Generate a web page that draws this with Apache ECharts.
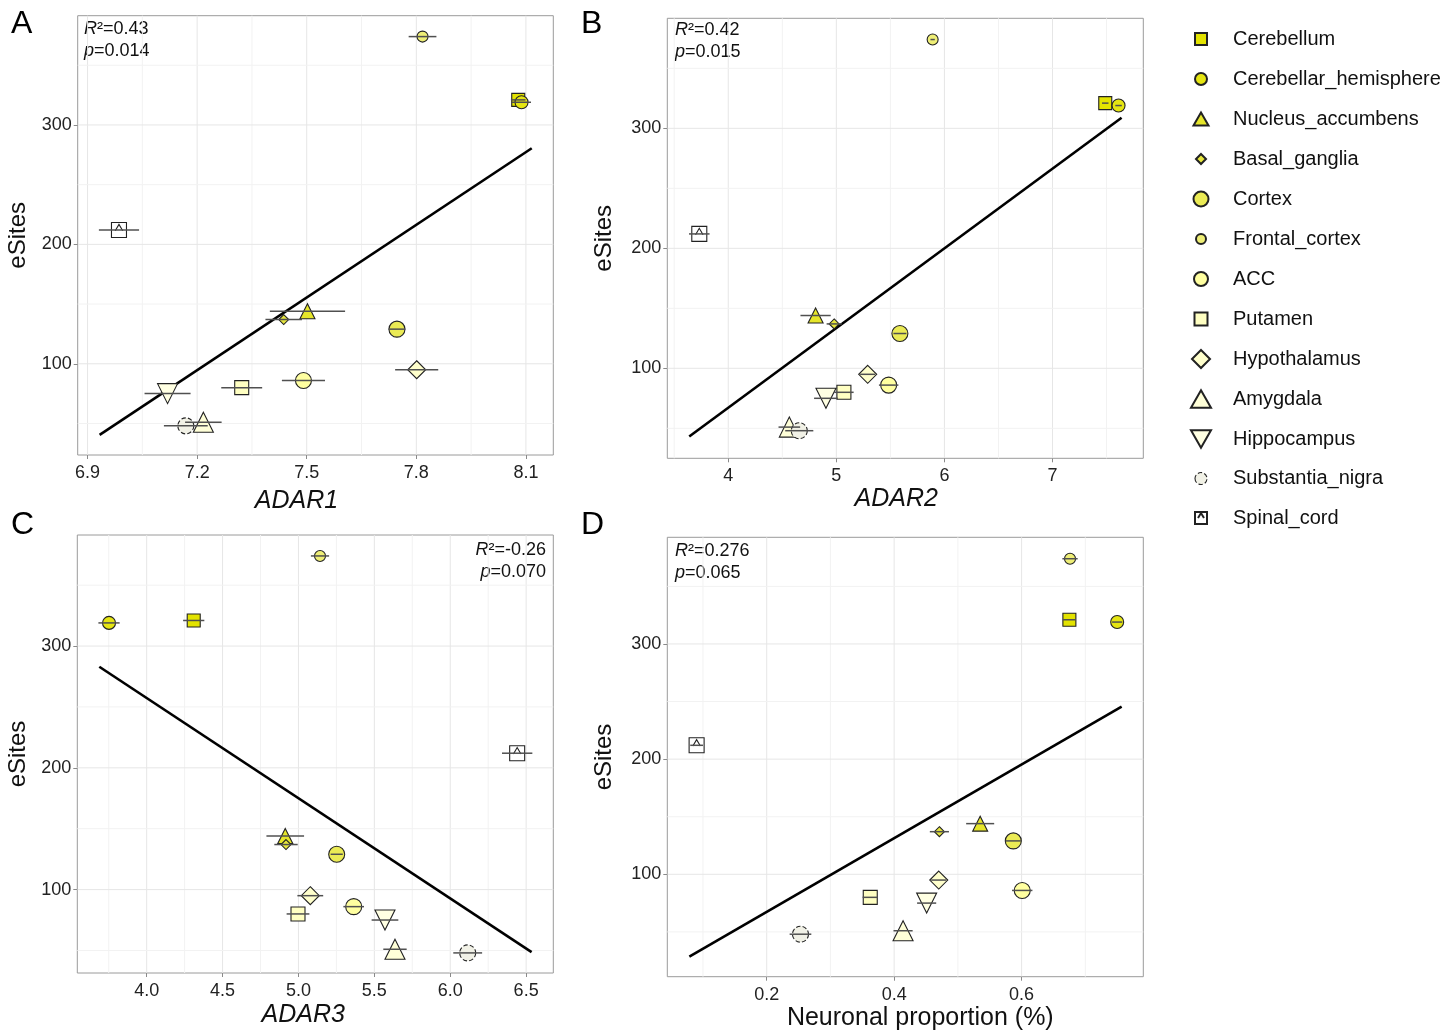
<!DOCTYPE html>
<html><head><meta charset="utf-8">
<script src="https://cdn.jsdelivr.net/npm/echarts@6/dist/echarts.min.js"></script>
<style>html,body{margin:0;padding:0;background:#fff}#c{width:1448px;height:1032px}</style>
</head><body><div id="c"></div>
<script>
// ---------------- data ----------------
const regions = ['Cerebellum','Cerebellar_hemisphere','Nucleus_accumbens','Basal_ganglia','Cortex','Frontal_cortex','ACC','Putamen','Hypothalamus','Amygdala','Hippocampus','Substantia_nigra','Spinal_cord'];
const eSites = [321, 319, 144, 137, 129, 374, 86, 80, 95, 51, 75, 48, 212];

const adar1    = [8.079, 8.088, 7.502, 7.437, 7.747, 7.817, 7.491, 7.322, 7.801, 7.217, 7.119, 7.169, 6.986];
const adar1Err = [0.02, 0.026, 0.103, 0.05, 0.023, 0.038, 0.059, 0.056, 0.059, 0.05, 0.063, 0.06, 0.055];
const adar2    = [7.488, 7.611, 4.808, 4.98, 5.588, 5.891, 5.484, 5.07, 5.29, 4.565, 4.904, 4.657, 3.732];
const adar2Err = [0.03, 0.03, 0.14, 0.07, 0.06, 0.02, 0.09, 0.09, 0.07, 0.1, 0.11, 0.13, 0.095];
const adar3    = [4.31, 3.752, 4.913, 4.918, 5.252, 5.142, 5.364, 4.997, 5.078, 5.636, 5.57, 6.115, 6.441];
const adar3Err = [0.07, 0.07, 0.124, 0.077, 0.04, 0.06, 0.068, 0.075, 0.085, 0.077, 0.088, 0.095, 0.1];
const neuronal    = [0.675, 0.750, 0.535, 0.471, 0.587, 0.676, 0.601, 0.3625, 0.470, 0.414, 0.451, 0.253, 0.090];
const neuronalErr = [0.01, 0.008, 0.022, 0.015, 0.012, 0.012, 0.016, 0.012, 0.012, 0.015, 0.015, 0.017, 0.01];

const fitA = [[6.933, 40.4], [8.116, 280.5]];
const fitB = [[3.639, 43.2], [7.639, 308.8]];
const fitC = [[3.688, 283.0], [6.536, 48.6]];
const fitD = [[0.0786, 28.6], [0.757, 245.6]];

const yMajor = [100, 200, 300];
const yMinor = [50, 150, 250, 350];
const xMajorA = [6.9, 7.2, 7.5, 7.8, 8.1];
const xMinorA = [7.05, 7.35, 7.65, 7.95];
const xMajorB = [4, 5, 6, 7];
const xMinorB = [3.5, 4.5, 5.5, 6.5, 7.5];
const xMajorC = [4.0, 4.5, 5.0, 5.5, 6.0, 6.5];
const xMinorC = [3.75, 4.25, 4.75, 5.25, 5.75, 6.25];
const xMajorD = [0.2, 0.4, 0.6];
const xMinorD = [0.1, 0.3, 0.5, 0.7];

const statR2 = ['0.43', '0.42', '-0.26', '0.276'];
const statP  = ['0.014', '0.015', '0.070', '0.065'];

// ---------------- styles ----------------
const FONT = "'Liberation Sans', Arial, Helvetica, sans-serif";
const styles = [
  {symbol: 'rect', size: 13, color: '#e3e300'},
  {symbol: 'circle', size: 13, color: '#e5e512'},
  {symbol: 'triangle', size: 15, color: '#e6e62a'},
  {symbol: 'diamond', size: 10, color: '#e6e63e'},
  {symbol: 'circle', size: 16, color: '#ebeb55'},
  {symbol: 'circle', size: 11, color: '#eeee76'},
  {symbol: 'circle', size: 16, color: '#ffffa0'},
  {symbol: 'rect', size: 14, color: '#ffffc2'},
  {symbol: 'diamond', size: 18, color: '#ffffcc'},
  {symbol: 'triangle', size: 20, color: '#ffffd8'},
  {symbol: 'path://M0,0L20,0L10,17.3Z', size: 20, color: '#ffffe2'},
  {symbol: 'circle', size: 16, color: '#f1f1e6', dashed: true},
  {symbol: 'path://M0,0H20V20H0Z M5,11 L10,2.5 L15,11', size: 15, color: '#ffffff'}
];
// legend icons: drawn in a fixed 22x22 box (corner moves keep the box), shapes sized like the reference key
const PAD = 'M-11,-11M11,11';
const circ = r => `M${-r},0A${r},${r},0,1,0,${r},0A${r},${r},0,1,0,${-r},0Z`;
const legendIcons = [
  `path://${PAD}M-6,-6H6V6H-6Z`,
  `path://${PAD}${circ(6)}`,
  `path://${PAD}M0,-6.5L7.5,6.5L-7.5,6.5Z`,
  `path://${PAD}M0,-5L5,0L0,5L-5,0Z`,
  `path://${PAD}${circ(7.5)}`,
  `path://${PAD}${circ(5)}`,
  `path://${PAD}${circ(7)}`,
  `path://${PAD}M-6.5,-6.5H6.5V6.5H-6.5Z`,
  `path://${PAD}M0,-9L9,0L0,9L-9,0Z`,
  `path://${PAD}M0,-8.7L10,8.7L-10,8.7Z`,
  `path://${PAD}M-10,-8.7L10,-8.7L0,8.7Z`,
  `path://${PAD}${circ(6)}`,
  `path://${PAD}M-6,-6H6V6H-6Z M-3,0 L0,-5 L3,0`
];

const panels = [
  {x: adar1, err: adar1Err, fit: fitA, xMajor: xMajorA, xMinor: xMinorA, xMin: 6.873, xMax: 8.175, yMin: 23.6, yMax: 391.5,
   grid: {left: 77.7, top: 15.7, width: 475.6, height: 439.3}, name: 'ADAR1', italic: true, dec: 1, nameGap: 34, yNameGap: 47, namePad: [0, 38, 0, 0]},
  {x: adar2, err: adar2Err, fit: fitB, xMajor: xMajorB, xMinor: xMinorB, xMin: 3.436, xMax: 7.84, yMin: 25, yMax: 391.7,
   grid: {left: 667.3, top: 18.3, width: 476, height: 440}, name: 'ADAR2', italic: true, dec: 0, nameGap: 28, yNameGap: 51, namePad: [0, 18, 0, 0]},
  {x: adar3, err: adar3Err, fit: fitC, xMajor: xMajorC, xMinor: xMinorC, xMin: 3.543, xMax: 6.679, yMin: 31.5, yMax: 391.2,
   grid: {left: 77.3, top: 535, width: 476, height: 438}, name: 'ADAR3', italic: true, dec: 1, nameGap: 30, yNameGap: 47, namePad: [0, 24, 0, 0]},
  {x: neuronal, err: neuronalErr, fit: fitD, xMajor: xMajorD, xMinor: xMinorD, xMin: 0.044, xMax: 0.791, yMin: 11.1, yMax: 392.6,
   grid: {left: 667.3, top: 537.3, width: 476, height: 439.4}, name: 'Neuronal proportion (%)', italic: false, dec: 1, nameGap: 29, yNameGap: 51, namePad: [0, 0, 0, 30]}
];

const grids = [], xAxes = [], yAxes = [], series = [];
panels.forEach((p, i) => {
  grids.push(Object.assign({show: true, borderColor: '#9a9a9a', borderWidth: 1, backgroundColor: '#fff'}, p.grid));
  xAxes.push({
    type: 'value', gridIndex: i, min: p.xMin, max: p.xMax,
    splitLine: {show: false}, axisLine: {show: false},
    axisTick: {show: true, length: 4, lineStyle: {color: '#8a8a8a'}, customValues: p.xMajor},
    axisLabel: {customValues: p.xMajor, formatter: v => Number(v).toFixed(p.dec), fontSize: 18, color: '#222', fontFamily: FONT, margin: 9},
    name: p.name, nameLocation: 'middle', nameGap: p.nameGap,
    nameTextStyle: {fontSize: 25, fontStyle: p.italic ? 'italic' : 'normal', color: '#111', fontFamily: FONT, padding: p.namePad}
  });
  yAxes.push({
    type: 'value', gridIndex: i, min: p.yMin, max: p.yMax,
    splitLine: {show: false}, axisLine: {show: false},
    axisTick: {show: true, length: 4, lineStyle: {color: '#8a8a8a'}, customValues: yMajor},
    axisLabel: {customValues: yMajor, formatter: v => String(Math.round(v)), fontSize: 18, color: '#222', fontFamily: FONT, margin: 6},
    name: 'eSites', nameLocation: 'middle', nameGap: p.yNameGap, nameRotate: 90,
    nameTextStyle: {fontSize: 24, color: '#111', fontFamily: FONT}
  });
  const gl = [];
  p.xMajor.forEach(v => gl.push([v, p.yMin, 0, 1]));
  p.xMinor.forEach(v => gl.push([v, p.yMin, 0, 0]));
  yMajor.forEach(v => gl.push([p.xMin, v, 1, 1]));
  yMinor.forEach(v => gl.push([p.xMin, v, 1, 0]));
  series.push({
    type: 'custom', xAxisIndex: i, yAxisIndex: i, z: 0, silent: true, animation: false,
    data: gl,
    renderItem: (params, api) => {
      const cs = params.coordSys;
      const horiz = api.value(2) === 1, major = api.value(3) === 1;
      const pt = api.coord([api.value(0), api.value(1)]);
      const shape = horiz ? {x1: cs.x, y1: pt[1], x2: cs.x + cs.width, y2: pt[1]}
                          : {x1: pt[0], y1: cs.y, x2: pt[0], y2: cs.y + cs.height};
      return {type: 'line', shape, style: {stroke: major ? '#e6e6e6' : '#f2f2f2', lineWidth: 1}};
    }
  });
  series.push({
    type: 'line', xAxisIndex: i, yAxisIndex: i, z: 1, silent: true, animation: false,
    data: p.fit, symbol: 'none', lineStyle: {color: '#000', width: 2.6}
  });
  regions.forEach((r, k) => {
    const st = styles[k];
    series.push({
      type: 'scatter', name: r, xAxisIndex: i, yAxisIndex: i, z: 2, animation: false,
      data: [[p.x[k], eSites[k]]], symbol: st.symbol, symbolSize: st.size,
      itemStyle: {color: st.color, borderColor: '#222', borderWidth: 1.1, borderType: st.dashed ? 'dashed' : 'solid', opacity: 1}
    });
  });
  series.push({
    type: 'custom', xAxisIndex: i, yAxisIndex: i, z: 3, silent: true, animation: false,
    data: p.x.map((v, k) => [v, eSites[k], p.err[k]]),
    renderItem: (params, api) => {
      const y = api.value(1), x = api.value(0), e = api.value(2);
      const a = api.coord([x - e, y]), b = api.coord([x + e, y]);
      return {type: 'line', shape: {x1: a[0], y1: a[1], x2: b[0], y2: b[1]}, style: {stroke: '#505050', lineWidth: 1.5}};
    }
  });
});

const rich = {i: {fontStyle: 'italic', fontSize: 18, fontFamily: FONT, fill: '#111'}, n: {fontSize: 18, fontFamily: FONT, fill: '#111'}};
const statPos = [
  {x: 84, y1: 29, y2: 51, align: 'left'},
  {x: 675, y1: 30, y2: 52, align: 'left'},
  {x: 546, y1: 550, y2: 572, align: 'right'},
  {x: 675, y1: 551, y2: 573, align: 'left'}
];
const graphic = [];
['A', 'B', 'C', 'D'].forEach((L, i) => {
  const pos = [[11, 24], [581, 24], [11, 525], [581, 525]][i];
  graphic.push({type: 'text', x: pos[0], y: pos[1], style: {text: L, font: '32px ' + FONT, fill: '#000', align: 'left', verticalAlign: 'middle'}});
  const sp = statPos[i];
  graphic.push({type: 'text', x: sp.x, y: sp.y1, style: {text: '{i|R}{n|²=' + statR2[i] + '}', rich, align: sp.align, verticalAlign: 'middle'}});
  graphic.push({type: 'text', x: sp.x, y: sp.y2, style: {text: '{i|p}{n|=' + statP[i] + '}', rich, align: sp.align, verticalAlign: 'middle'}});
});

const chart = echarts.init(document.getElementById('c'), null, {renderer: 'canvas'});
chart.setOption({
  animation: false,
  backgroundColor: '#fff',
  grid: grids, xAxis: xAxes, yAxis: yAxes, series,
  legend: {
    data: regions.map((r, k) => ({name: r, icon: legendIcons[k],
      itemStyle: styles[k].dashed ? {borderType: 'dashed', borderColor: '#222', borderWidth: 1.1} : undefined})),
    orient: 'vertical', left: 1189, top: 27, padding: 0,
    itemWidth: 22, itemHeight: 22, itemGap: 16, selectedMode: false, symbolKeepAspect: true,
    textStyle: {fontSize: 20, color: '#111', fontFamily: FONT, lineHeight: 22, padding: [0, 0, 0, 16]}
  },
  graphic
});
</script>
</body></html>
